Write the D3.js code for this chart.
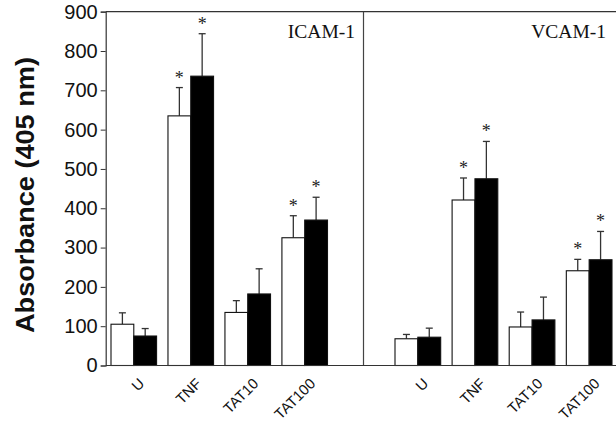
<!DOCTYPE html>
<html><head><meta charset="utf-8">
<script src="https://cdn.jsdelivr.net/npm/d3@7"></script>
<style>body{margin:0;background:#fff}svg{display:block}</style>
</head><body>
<svg id="c" width="616" height="424"></svg>
<script>
const categories = ["U", "TNF", "TAT10", "TAT100"];
const panels = ["ICAM-1", "VCAM-1"];
const yTicks = [0, 100, 200, 300, 400, 500, 600, 700, 800, 900];
// [open bars, filled bars] per panel
const icamOpen = [105, 635, 135, 325];
const icamOpenErr = [29, 72, 30, 56];
const icamFilled = [75, 736, 182, 370];
const icamFilledErr = [19, 108, 64, 58];
const vcamOpen = [68, 421, 98, 241];
const vcamOpenErr = [11, 56, 38, 29];
const vcamFilled = [72, 475, 116, 269];
const vcamFilledErr = [23, 95, 58, 72];
const significant = [false, true, false, true];

const svg = d3.select("#c");
const y = d3.scaleLinear().domain([0, 900]).range([365.5, 11.7]);
const xLeft = 105.7, xRight = 616, xDiv = 363.5;

const panelData = [
  {name: panels[0], open: icamOpen, openErr: icamOpenErr, filled: icamFilled, filledErr: icamFilledErr, range: [111, 327.5], labelX: 355},
  {name: panels[1], open: vcamOpen, openErr: vcamOpenErr, filled: vcamFilled, filledErr: vcamFilledErr, range: [395, 612], labelX: 606}
];

// frame
svg.append("line").attr("x1", xLeft).attr("x2", xRight).attr("y1", y(900)).attr("y2", y(900)).attr("stroke", "#333").attr("stroke-width", 1.2);
svg.append("line").attr("x1", xDiv).attr("x2", xDiv).attr("y1", y(900)).attr("y2", y(0)).attr("stroke", "#444").attr("stroke-width", 1.2);

// y axis
const yAxis = d3.axisLeft(y).tickValues(yTicks).tickSize(5).tickPadding(3);
const ga = svg.append("g").attr("transform", `translate(${xLeft},0)`).call(yAxis);
ga.select(".domain").attr("stroke", "#333").attr("stroke-width", 1.2);
ga.selectAll(".tick line").attr("stroke", "#333");
ga.selectAll(".tick text").attr("font-family", "Liberation Sans, Arial, sans-serif").attr("font-size", 20).attr("fill", "#111");

svg.append("text").attr("transform", `translate(34,195) rotate(-90)`)
  .attr("text-anchor", "middle").attr("font-family", "Liberation Sans, Arial, sans-serif")
  .attr("font-weight", "bold").attr("font-size", 25.5).attr("fill", "#111")
  .attr("textLength", 276).attr("lengthAdjust", "spacingAndGlyphs").text("Absorbance (405 nm)");

panelData.forEach(p => {
  const x = d3.scaleBand().domain(categories).range(p.range).paddingInner(0.2).paddingOuter(0);
  const bw = x.bandwidth() / 2;
  const g = svg.append("g");
  const series = [
    {vals: p.open, errs: p.openErr, off: 0, fill: "#fff"},
    {vals: p.filled, errs: p.filledErr, off: bw, fill: "#000"}
  ];
  series.forEach(s => {
    categories.forEach((c, i) => {
      const cx = x(c) + s.off + bw / 2;
      const top = y(s.vals[i] + s.errs[i]);
      g.append("line").attr("x1", cx).attr("x2", cx).attr("y1", y(s.vals[i])).attr("y2", top).attr("stroke", "#333").attr("stroke-width", 1.3);
      g.append("line").attr("x1", cx - 3.5).attr("x2", cx + 3.5).attr("y1", top).attr("y2", top).attr("stroke", "#333").attr("stroke-width", 1.3);
      if (significant[i]) {
        g.append("text").attr("x", cx).attr("y", top - 4).attr("text-anchor", "middle")
          .attr("font-family", "Liberation Serif, Times New Roman, serif").attr("font-size", 18).attr("fill", "#222").text("*");
      }
    });
    g.selectAll(null).data(categories).enter().append("rect")
      .attr("x", (c) => x(c) + s.off).attr("width", bw)
      .attr("y", (c, i) => y(s.vals[i])).attr("height", (c, i) => y(0) - y(s.vals[i]))
      .attr("fill", s.fill).attr("stroke", "#111").attr("stroke-width", 1.1);
  });
  // category labels
  g.selectAll(null).data(categories).enter().append("text")
    .attr("transform", c => `translate(${x(c) + x.bandwidth() / 2 + 4},${377}) rotate(-45)`)
    .attr("text-anchor", "end").attr("font-family", "Liberation Sans, Arial, sans-serif")
    .attr("font-size", 14.8).attr("fill", "#111").attr("dy", "0.72em").text(c => c);
  svg.append("text").attr("x", p.labelX).attr("y", 38).attr("text-anchor", "end")
    .attr("font-family", "Liberation Serif, Times New Roman, serif").attr("font-size", 19.5).attr("fill", "#111").text(p.name);
});

// x axis baseline
svg.append("line").attr("x1", xLeft).attr("x2", xRight).attr("y1", y(0)).attr("y2", y(0)).attr("stroke", "#333").attr("stroke-width", 1.2);
</script>
</body></html>
